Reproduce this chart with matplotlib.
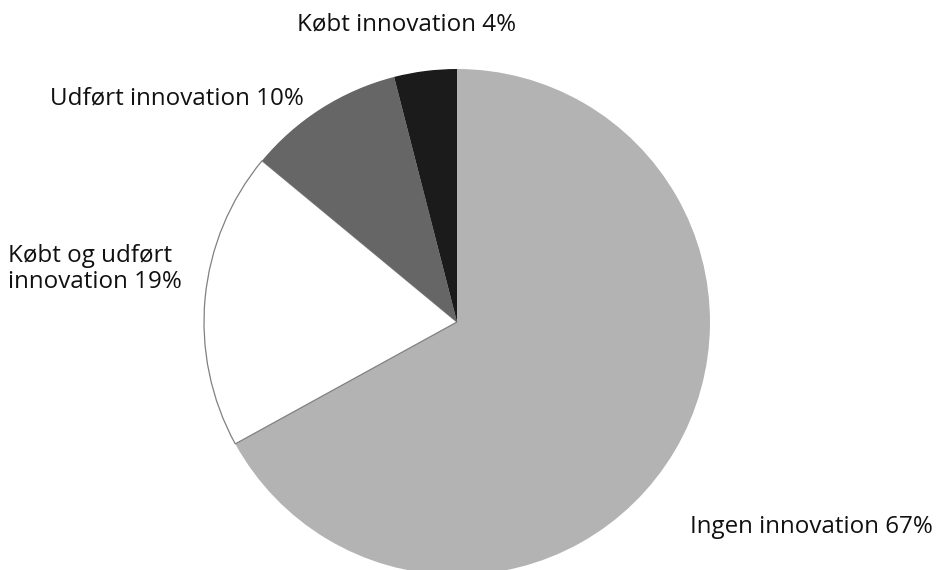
import matplotlib
matplotlib.use("Agg")
import matplotlib.pyplot as plt

categories = ["Ingen innovation", "Købt og udført\ninnovation", "Udført innovation", "Købt innovation"]
shares = [67, 19, 10, 4]
colors = ["#b3b3b3", "#ffffff", "#666666", "#1b1b1b"]

plt.rcParams["font.family"] = ["Open Sans", "DejaVu Sans"]

fig = plt.figure(figsize=(9.36, 5.70), dpi=100)
ax = fig.add_axes([204 / 936, (570 - 575) / 570, 506 / 936, 506 / 570])
wedges, _ = ax.pie(shares, colors=colors, startangle=90, counterclock=False,
                   wedgeprops=dict(linewidth=0))
# only the white slice gets a thin outline
wedges[1].set_edgecolor("#808080")
wedges[1].set_linewidth(0.9)
ax.set_xlim(-1, 1)
ax.set_ylim(-1, 1)
ax.set_aspect("equal")

# label positions in pixels (x, y, ha)
label_pos = [(690, 527, "left"), (8, 269, "left"), (50, 98, "left"), (407, 24, "center")]
for cat, val, (x, y, ha) in zip(categories, shares, label_pos):
    fig.text(x / 936, 1 - y / 570, f"{cat} {val}%", ha=ha, va="center",
             fontsize=17.4, color="#111111", linespacing=1.12)

fig.savefig("out.png", dpi=100)
